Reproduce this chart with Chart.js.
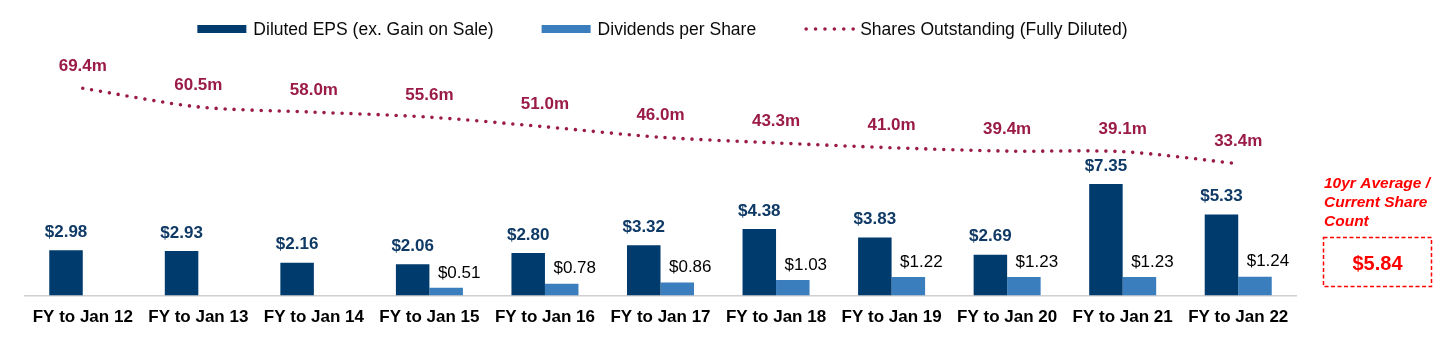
<!DOCTYPE html>
<html>
<head>
<meta charset="utf-8">
<script src="https://cdn.jsdelivr.net/npm/chart.js@4.4.1/dist/chart.umd.min.js"></script>
<style>
  html, body { margin: 0; padding: 0; background: #ffffff; }
  #wrap { width: 1456px; height: 352px; position: relative; }
</style>
</head>
<body>
<div id="wrap"><canvas id="c" width="1456" height="352"></canvas></div>
<script>
// ---- data ----
const categories = ['FY to Jan 12', 'FY to Jan 13', 'FY to Jan 14', 'FY to Jan 15', 'FY to Jan 16', 'FY to Jan 17', 'FY to Jan 18', 'FY to Jan 19', 'FY to Jan 20', 'FY to Jan 21', 'FY to Jan 22'];
const epsValues = [2.98, 2.93, 2.16, 2.06, 2.80, 3.32, 4.38, 3.83, 2.69, 7.35, 5.33];
const dpsValues = [null, null, null, 0.51, 0.78, 0.86, 1.03, 1.22, 1.23, 1.23, 1.24];
const sharesValues = [69.4, 60.5, 58.0, 55.6, 51.0, 46.0, 43.3, 41.0, 39.4, 39.1, 33.4];
const seriesNames = ['Diluted EPS (ex. Gain on Sale)', 'Dividends per Share', 'Shares Outstanding (Fully Diluted)'];
const noteLines = ['10yr Average /', 'Current Share', 'Count'];
const noteValue = '$5.84';

const FONT = "'Liberation Sans', Arial, Helvetica, sans-serif";
const C_EPS = '#003B6E';
const C_DPS = '#3A7EBE';
const C_LINE = '#9B1B48';
const C_EPS_TXT = '#0F3A66';
const C_NOTE = '#FF0000';

Chart.defaults.font.family = FONT;

const labelPlugin = {
  id: 'valueLabels',
  afterDatasetsDraw(chart) {
    const ctx = chart.ctx;
    ctx.save();
    ctx.textAlign = 'center';
    ctx.textBaseline = 'middle';
    chart.data.datasets.forEach((ds, di) => {
      const meta = chart.getDatasetMeta(di);
      meta.data.forEach((el, i) => {
        const v = ds.data[i];
        if (v === null || v === undefined) return;
        if (di === 0) {
          ctx.font = "bold 17px " + FONT;
          ctx.fillStyle = C_EPS_TXT;
          ctx.fillText('$' + v.toFixed(2), el.x, el.y - 18);
        } else if (di === 1) {
          ctx.font = "17px " + FONT;
          ctx.fillStyle = '#000000';
          ctx.fillText('$' + v.toFixed(2), el.x + 13, el.y - 15);
        } else {
          ctx.font = "bold 17px " + FONT;
          ctx.fillStyle = C_LINE;
          ctx.fillText(v.toFixed(1) + 'm', el.x, el.y - 22);
        }
      });
    });
    ctx.restore();
  }
};

const legendPlugin = {
  id: 'customLegend',
  afterDraw(chart) {
    const ctx = chart.ctx;
    ctx.save();
    ctx.font = "17.5px " + FONT;
    const symW = 50, symGap = 6, itemGap = 48;
    const widths = seriesNames.map(n => symW + symGap + ctx.measureText(n).width);
    const total = widths.reduce((a, b) => a + b, 0) + itemGap * (widths.length - 1);
    const ca = chart.chartArea;
    let x = (ca.left + ca.right) / 2 - total / 2 + 2;
    const y = 29;
    seriesNames.forEach((name, i) => {
      const ds = chart.data.datasets[i];
      if (i < 2) {
        ctx.fillStyle = ds.backgroundColor;
        ctx.fillRect(x, y - 4, symW - 1, 8);
      } else {
        ctx.strokeStyle = ds.borderColor;
        ctx.lineWidth = 3.6;
        ctx.lineCap = 'round';
        ctx.setLineDash([0, 9.4]);
        ctx.beginPath();
        ctx.moveTo(x + 2, y);
        ctx.lineTo(x + symW, y);
        ctx.stroke();
        ctx.setLineDash([]);
      }
      ctx.fillStyle = '#0a0a0a';
      ctx.textAlign = 'left';
      ctx.textBaseline = 'middle';
      ctx.fillText(name, x + symW + symGap, y + 1);
      x += widths[i] + itemGap;
    });
    ctx.restore();
  }
};

const notePlugin = {
  id: 'note',
  afterDraw(chart) {
    const ctx = chart.ctx;
    ctx.save();
    ctx.fillStyle = C_NOTE;
    ctx.font = "italic bold 15.5px " + FONT;
    ctx.textAlign = 'left';
    ctx.textBaseline = 'middle';
    noteLines.forEach((t, i) => ctx.fillText(t, 1324, 184 + i * 18.8));
    ctx.strokeStyle = C_NOTE;
    ctx.lineWidth = 1.5;
    ctx.setLineDash([4, 2.5]);
    ctx.strokeRect(1323.5, 237.5, 108, 49);
    ctx.setLineDash([]);
    ctx.font = "bold 20px " + FONT;
    ctx.textAlign = 'center';
    ctx.fillText(noteValue, 1377.5, 264);
    ctx.restore();
  }
};

new Chart(document.getElementById('c'), {
  type: 'bar',
  data: {
    labels: categories,
    datasets: [
      { label: seriesNames[0], data: epsValues, backgroundColor: C_EPS, borderWidth: 0, yAxisID: 'y', order: 2 },
      { label: seriesNames[1], data: dpsValues, backgroundColor: C_DPS, borderWidth: 0, yAxisID: 'y', order: 2 },
      { label: seriesNames[2], data: sharesValues, type: 'line', yAxisID: 'y2', order: 1,
        borderColor: C_LINE, backgroundColor: C_LINE, borderWidth: 3.6, borderDash: [0, 9],
        borderCapStyle: 'round', pointRadius: 0, tension: 0.3, fill: false }
    ]
  },
  options: {
    responsive: false,
    animation: false,
    devicePixelRatio: 1,
    layout: { padding: { top: 60, left: 25, right: 160, bottom: 12 } },
    datasets: { bar: { categoryPercentage: 0.58, barPercentage: 1.0 } },
    plugins: { legend: { display: false }, tooltip: { enabled: false } },
    scales: {
      x: {
        grid: { display: false, drawTicks: false },
        border: { display: true, color: '#D0D0D0', width: 1.5 },
        ticks: { color: '#000000', font: { size: 17, weight: 'bold', family: FONT }, padding: 12, maxRotation: 0, autoSkip: false }
      },
      y: { display: false, min: 0, max: 15.5 },
      y2: { display: false, min: -29.6, max: 82.9 }
    }
  },
  plugins: [labelPlugin, legendPlugin, notePlugin]
});
</script>
</body>
</html>
